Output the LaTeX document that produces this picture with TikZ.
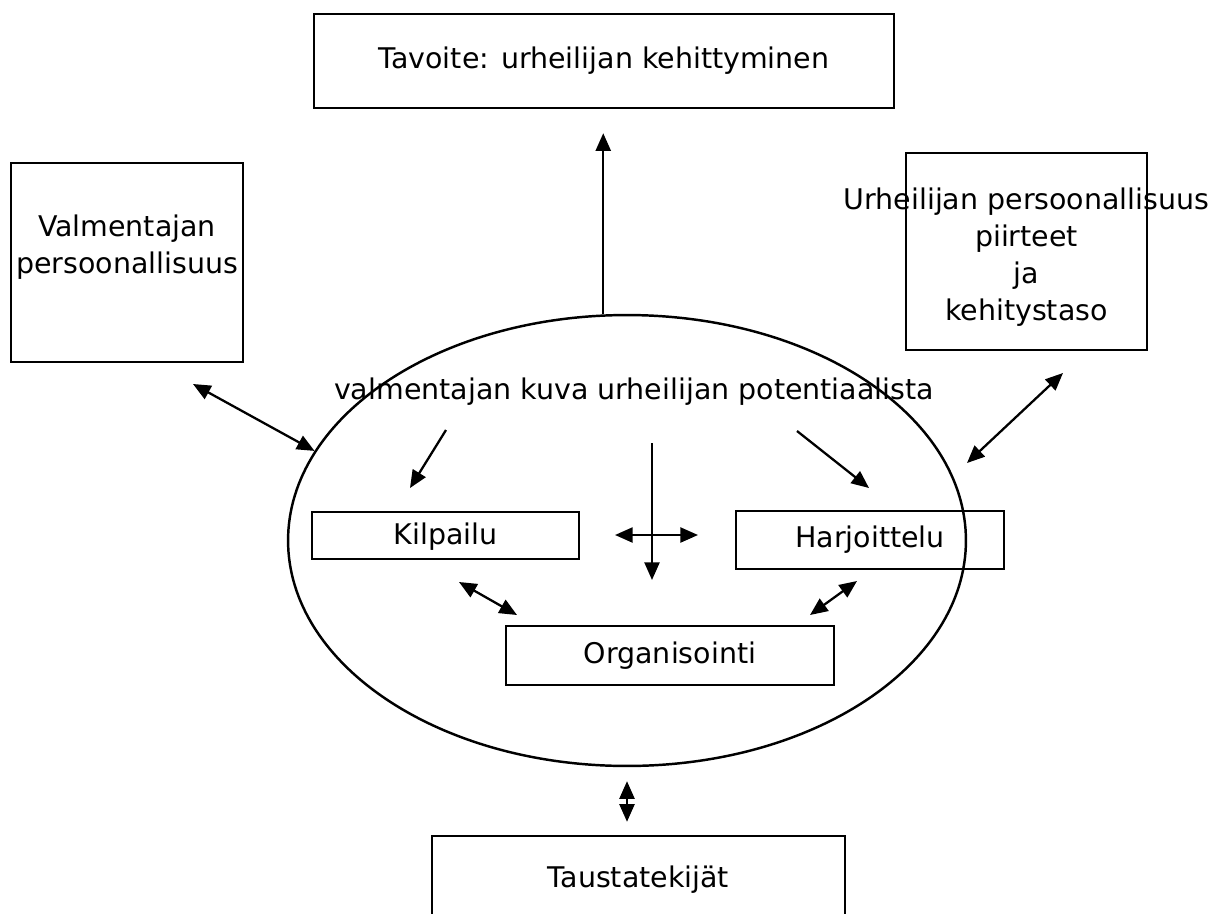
\documentclass[tikz,border=0pt]{standalone}
\usepackage{fontspec}
\setmainfont{DejaVu Sans}
\usetikzlibrary{arrows.meta,shapes.geometric}

\begin{document}
\begin{tikzpicture}[x=0.02cm, y=-0.02cm,
        txt/.style={font=\fontsize{16.2}{21}\selectfont, align=center},
        box/.style={txt, draw, line width=1.4pt, inner sep=0pt},
        link/.style={line width=1.3pt, -{Triangle[length=10pt, width=8.5pt]}},
        twoway/.style={line width=1.3pt, {Triangle[length=10pt, width=8.5pt]}-{Triangle[length=10pt, width=8.5pt]}}]
    \useasboundingbox (0,0) rectangle (1220,913);
    \clip (0,0) rectangle (1220,913);

    \node[box, minimum width=11.6cm, minimum height=1.88cm] (goal) at (604,61) {Tavoite: urheilijan kehittyminen};
    \node[box, minimum width=4.64cm, minimum height=3.98cm,
          label={[txt, yshift=0.3cm]center:Valmentajan\\persoonallisuus}] (coach) at (127,262.5) {};
    \node[box, minimum width=4.82cm, minimum height=3.94cm,
          label={[txt, yshift=-0.11cm]center:Urheilijan persoonallisuus\\piirteet\\ja\\kehitystaso}] (athlete) at (1026.5,251.5) {};
    \node[ellipse, draw, line width=1.4pt, inner sep=0pt, minimum width=13.56cm, minimum height=9.02cm] (ell) at (627,540.5) {};
    \node[txt, anchor=base] (view) at (634,399) {valmentajan kuva urheilijan potentiaalista};
    \node[box, minimum width=5.34cm, minimum height=0.94cm, text depth=0.08cm] (compete) at (445.5,535.5) {Kilpailu};
    \node[box, minimum width=5.36cm, minimum height=1.16cm] (train) at (870,540) {Harjoittelu};
    \node[box, minimum width=6.56cm, minimum height=1.18cm] (org) at (670,655.5) {Organisointi};
    \node[box, minimum width=8.26cm, minimum height=1.76cm] (bg) at (638.5,880) {Taustatekijät};

    \coordinate (coachend) at (193,384);
    \coordinate (athend) at (1063,373);
    \coordinate (ellend) at (967,463);
    \coordinate (k1) at (446,430);
    \coordinate (k2) at (410,488);
    \coordinate (h1) at (797,431);
    \coordinate (h2) at (869,488);
    \coordinate (v1) at (652,443);
    \coordinate (v2) at (652,580);
    \coordinate (w1) at (615,535);
    \coordinate (w2) at (698,535);
    \coordinate (ko1) at (459,582);
    \coordinate (ko2) at (517,615);
    \coordinate (ho1) at (857,581);
    \coordinate (ho2) at (810,615);

    \draw[link, shorten >=0.48cm] (ell.96) -- (ell.96 |- goal.south);
    \draw[twoway] (coachend) -- (ell.164.6);
    \draw[twoway] (athend) -- (ellend);
    \draw[link] (k1) -- (k2);
    \draw[link] (h1) -- (h2);
    \draw[link] (v1) -- (v2);
    \draw[twoway] (w1) -- (w2);
    \draw[twoway] (ko1) -- (ko2);
    \draw[twoway] (ho1) -- (ho2);
    \draw[twoway, shorten <=0.28cm, shorten >=0.26cm] (ell.south) -- (ell.south |- bg.north);
\end{tikzpicture}
\end{document}
